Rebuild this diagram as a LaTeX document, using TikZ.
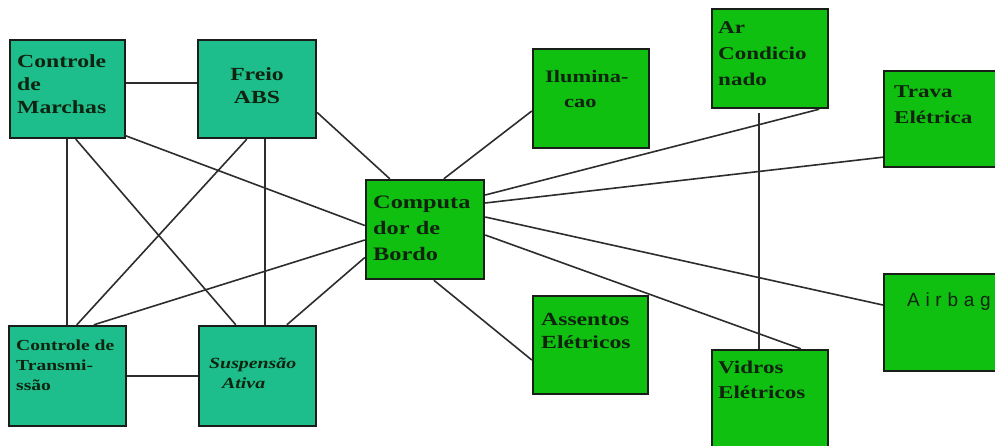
\documentclass[tikz,border=0pt]{standalone}
\usepackage{fontspec}
\setmainfont{Liberation Serif}
\newfontfamily\boxfont{Liberation Serif}[FakeStretch=1.28]
\newfontfamily\airfont{Liberation Sans}[LetterSpace=30]
\usetikzlibrary{calc}
\definecolor{ctrlteal}{RGB}{30,190,140}
\definecolor{unitgreen}{RGB}{16,192,16}
\definecolor{boxline}{RGB}{25,30,25}
\definecolor{wirecol}{RGB}{45,45,45}
\definecolor{txtcol}{RGB}{15,35,15}
\begin{document}
\begin{tikzpicture}[x=1pt,y=-1pt,
  ctrl/.style={draw=boxline,fill=ctrlteal,line width=2.4pt,inner sep=0pt},
  unit/.style={draw=boxline,fill=unitgreen,line width=2.4pt,inner sep=0pt},
  wire/.style={draw=wirecol,line width=1.6pt},
  lbl/.style={anchor=base west,inner sep=0pt,align=left,text=txtcol},
  big/.style={font=\boxfont\bfseries\fontsize{18.5}{23}\selectfont},
  small/.style={font=\boxfont\bfseries\fontsize{15.3}{20}\selectfont}]
\useasboundingbox (0,0) rectangle (995,445);
\fill[white] (0,0) rectangle (995,445);
\clip (0,0) rectangle (995,445);

% control modules (left cluster)
\node[ctrl,minimum width=115pt,minimum height=98pt]  (cm) at (67.5,89) {};
\node[ctrl,minimum width=118pt,minimum height=98pt]  (fa) at (257,89) {};
\node[ctrl,minimum width=117pt,minimum height=100pt] (ct) at (67.5,376) {};
\node[ctrl,minimum width=117pt,minimum height=100pt] (sa) at (257.5,376) {};

% on-board computer and body units
\node[unit,minimum width=118pt,minimum height=99pt]  (cb) at (425,229.5) {};
\node[unit,minimum width=116pt,minimum height=99pt]  (il) at (591,98.5) {};
\node[unit,minimum width=115pt,minimum height=98pt]  (as) at (590.5,345) {};
\node[unit,minimum width=116pt,minimum height=99pt]  (ac) at (770,58.5) {};
\node[unit,minimum width=116pt,minimum height=96pt]  (tr) at (942,119) {};
\node[unit,minimum width=116pt,minimum height=97pt]  (ab) at (942,322.5) {};
\node[unit,minimum width=116pt,minimum height=100pt] (vi) at (770,400) {};

% labels (positioned by the baseline of their last line)
\node[lbl,big] (cmT) at (17,113) {Controle\\de\\Marchas};
\node[lbl,big,anchor=base,align=center] (faT) at (257,103) {Freio\\ABS};
\node[lbl,small] (ctT) at (16,390) {Controle de\\Transmi-\\ssão};
\node[lbl,font=\boxfont\bfseries\itshape\fontsize{15.5}{20}\selectfont] (saT) at (209,388) {Suspensão\\\hspace*{13pt}Ativa};
\node[lbl,font=\boxfont\bfseries\fontsize{19}{26}\selectfont] (cbT) at (373,260) {Computa\\dor de\\Bordo};
\node[lbl,font=\boxfont\bfseries\fontsize{17.5}{25}\selectfont] (ilT) at (545,107) {Ilumina-\\\hspace*{19pt}cao};
\node[lbl,big] (asT) at (541,348) {Assentos\\Elétricos};
\node[lbl,font=\boxfont\bfseries\fontsize{18}{26}\selectfont] (acT) at (718,85) {Ar\\Condicio\\nado};
\node[lbl,font=\boxfont\bfseries\fontsize{18}{26}\selectfont] (trT) at (894,123) {Trava\\Elétrica};
\node[lbl,font=\boxfont\bfseries\fontsize{18}{25}\selectfont] (viT) at (718,398) {Vidros\\Elétricos};
\node[lbl,font=\airfont\fontsize{19}{22}\selectfont] (abT) at (907,306) {Airbag};

% links among the control modules
\draw[wire] ($(cm.east)+(0,-6)$) -- ($(fa.west)+(0,-6)$);
\draw[wire] ($(cm.south)+(-0.5,0)$) -- ($(ct.north)+(-0.5,0)$);
\draw[wire] ($(cm.south west)+(67,0)$) -- ($(sa.north west)+(38,0)$);
\draw[wire] ($(cm.south east)+(-2,-4)$) -- ($(cb.west)+(0,-4)$);
\draw[wire] ($(fa.south west)+(50,0)$) -- ($(ct.north west)+(69,0)$);
\draw[wire] ($(fa.south)+(8,0)$) -- ($(sa.north)+(7.5,0)$);
\draw[wire] ($(fa.east)+(0,23.5)$) -- ($(cb.north west)+(25,0)$);
\draw[wire] ($(cb.west)+(0,10.5)$) -- ($(ct.north west)+(86,0)$);
\draw[wire] ($(cb.west)+(0,28)$) -- ($(sa.north west)+(89,0)$);
\draw[wire] (ct.east) -- (sa.west);

% links from the on-board computer
\draw[wire] ($(cb.north west)+(79,0)$) -- ($(il.west)+(0,12.5)$);
\draw[wire] ($(cb.east)+(0,-34.5)$) -- ($(ac.south east)+(-10,0)$);
\draw[wire] ($(cb.east)+(0,-26.5)$) -- ($(tr.south west)+(0,-11)$);
\draw[wire] ($(cb.east)+(0,-12.5)$) -- ($(ab.west)+(0,-17.5)$);
\draw[wire] ($(cb.east)+(0,5.5)$) -- ($(vi.north west)+(90,0)$);
\draw[wire] ($(cb.south west)+(69,0)$) -- ($(as.west)+(0,15)$);
\draw[wire] ($(ac.south west)+(48,4)$) -- ($(vi.north west)+(48,0)$);
\end{tikzpicture}
\end{document}
